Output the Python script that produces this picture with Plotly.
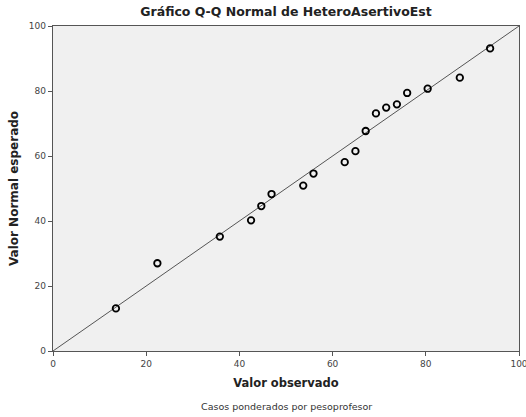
import plotly.graph_objects as go

# valores
observado = [13.5, 22.4, 35.8, 42.5, 44.7, 46.9, 53.7, 55.9, 62.6, 64.9,
             67.1, 69.3, 71.5, 73.8, 76.0, 80.4, 87.3, 93.8]
esperado = [13.1, 27.0, 35.2, 40.2, 44.6, 48.3, 50.9, 54.6, 58.1, 61.5,
            67.7, 73.1, 74.9, 75.9, 79.4, 80.7, 84.1, 93.1]
linea_ref = [0, 100]
ticks = [0, 20, 40, 60, 80, 100]

fig = go.Figure()

# linea de referencia y = x
fig.add_trace(go.Scatter(x=linea_ref, y=linea_ref, mode="lines",
                         line=dict(color="#555555", width=1),
                         hoverinfo="skip", showlegend=False))

fig.add_trace(go.Scatter(x=observado, y=esperado, mode="markers",
                         marker=dict(symbol="circle-open", size=6.5, color="black",
                                     line=dict(width=1.8, color="black")),
                         showlegend=False))

axis_style = dict(range=[0, 100], tickvals=ticks, ticks="outside", ticklen=4,
                  tickcolor="#555555", showline=True, linecolor="#555555",
                  linewidth=1.3, mirror=True, showgrid=False, zeroline=False,
                  ticklabeloverflow="allow",
                  tickfont=dict(family="DejaVu Sans", size=9, color="#444444"))

fig.update_xaxes(**axis_style,
                 title=dict(text="<b>Valor observado</b>", standoff=10,
                            font=dict(family="DejaVu Sans", size=11.5, color="#222222")))
fig.update_yaxes(**axis_style,
                 title=dict(text="<b>Valor Normal esperado</b>", standoff=7,
                            font=dict(family="DejaVu Sans", size=12, color="#222222")))

fig.update_layout(
    width=526, height=417,
    margin=dict(l=53, r=7, t=26, b=66, autoexpand=False),
    plot_bgcolor="#f0f0f0", paper_bgcolor="white",
    title=dict(text="<b>Gráfico Q-Q Normal de HeteroAsertivoEst</b>",
               x=286 / 526, xanchor="center", y=1 - 12 / 417, yanchor="middle",
               font=dict(family="DejaVu Sans", size=12.5, color="#222222")),
    annotations=[dict(text="Casos ponderados por pesoprofesor", showarrow=False,
                      xref="paper", yref="paper", x=0.5, y=-55 / 325,
                      xanchor="center", yanchor="middle",
                      font=dict(family="DejaVu Sans", size=9.5, color="#333333"))],
)

# quitar el margen por defecto del body
fig.write_html("out.html", config={"displayModeBar": False},
               post_script="document.body.style.margin='0';")
